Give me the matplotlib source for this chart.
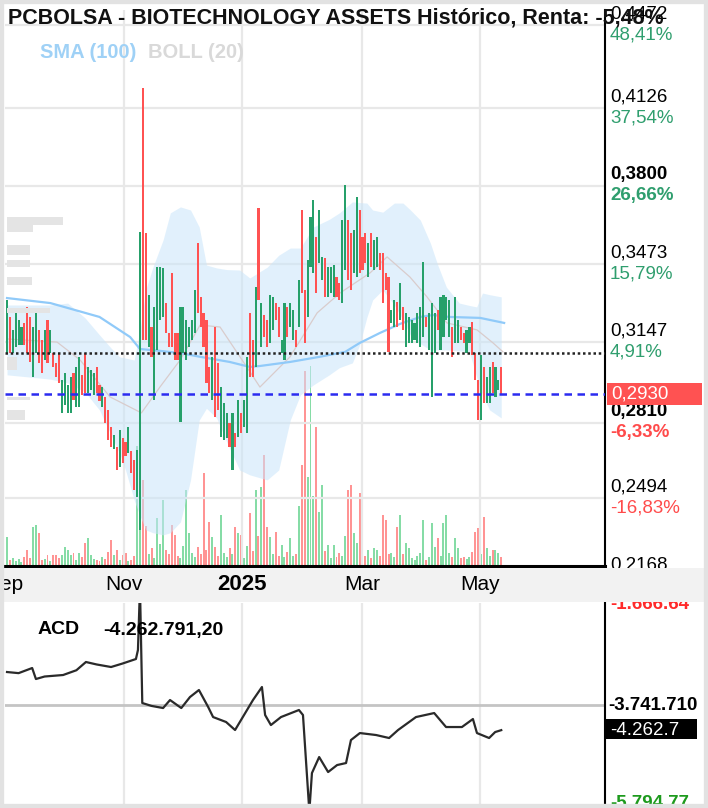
import matplotlib
matplotlib.use("Agg")
import matplotlib.pyplot as plt
import matplotlib.transforms as mtransforms
from matplotlib.patches import Rectangle
import numpy as np

W, H = 708, 808

# ---- daily candles (trading-day index 0..171) ----
opens = [
    .3101, .3252, .3101, .3126, .3135, .3135, .3227, .3294, .3252, .3001,
    .3101, .3198, .3156, .3072, .3239, .3101, .3101, .3060, .3101, .2851,
    .2884, .2851, .2851, .3018, .2876, .2876, .3010, .3101, .2934, .2947,
    .2926, .3043, .2968, .2876, .2917, .2863, .2792, .2700, .2708, .2625,
    .2746, .2730, .2683, .2690, .2654, .2500, .2362, .4209, .3603, .3126,
    .3210, .2905, .3114, .3239, .3252, .3311, .3185, .3436, .3185, .3185,
    .2813, .3101, .3072, .3126, .3156, .3185, .3561, .3336, .3269, .3239,
    .3043, .2905, .3210, .3060, .2750, .2738, .2746, .2808, .2612, .2767,
    .2750, .2851, .2792, .2767, .3269, .3156, .3043, .3707, .3126, .3260,
    .3239, .3143, .3198, .3311, .3294, .3101, .3072, .3294, .3210, .3156,
    .3198, .3210, .3699, .3365, .3252, .3461, .3436, .3586, .3478, .3407,
    .3499, .3336, .3352, .3336, .3419, .3394, .3311, .3448, .3657, .3603,
    .3436, .3419, .3699, .3586, .3603, .3419, .3603, .3448, .3461, .3520,
    .3520, .3436, .3419, .3227, .3210, .3315, .3239, .3294, .3126, .3143,
    .3143, .3156, .3143, .3126, .3168, .3252, .3114, .2917, .3101, .3281,
    .3114, .3168, .3239, .3168, .3210, .3143, .3143, .3210, .3185, .3101,
    .3143, .3231, .3101, .2989, .2821, .3043, .2893, .2893, .3064, .2917,
    .2947, .3043,
]
closes = [
    .3323, .3101, .3198, .3281, .3239, .3210, .3135, .3101, .3064, .3210,
    .3269, .3060, .3018, .3198, .3060, .3198, .3043, .3001, .2976, .2989,
    .3018, .2968, .3001, .2905, .3043, .3085, .2926, .2934, .3043, .3030,
    .3018, .2934, .2900, .2959, .2808, .2738, .2708, .2760, .2612, .2780,
    .2642, .2670, .2792, .2600, .2529, .2696, .3607, .3156, .3156, .3344,
    .3085, .3294, .3461, .3461, .3457, .3185, .3126, .3126, .3072, .3072,
    .3294, .3294, .3239, .3210, .3239, .3365, .3269, .3210, .3126, .2976,
    .2934, .3085, .2834, .2863, .2959, .2893, .2851, .2708, .2851, .2708,
    .2905, .2767, .2905, .3085, .3001, .3001, .3378, .3323, .3311, .3168,
    .3126, .3344, .3336, .3239, .3168, .3156, .3311, .3168, .3311, .3281,
    .3126, .3407, .3352, .3143, .3490, .3670, .3741, .3352, .3699, .3503,
    .3336, .3461, .3461, .3469, .3336, .3323, .3657, .3804, .3407, .3365,
    .3616, .3753, .3436, .3448, .3478, .3561, .3461, .3574, .3586, .3448,
    .3311, .3365, .3106, .3281, .3323, .3210, .3394, .3198, .3269, .3252,
    .3239, .3227, .3269, .3294, .3482, .3210, .3269, .3311, .3269, .3198,
    .3336, .3344, .3336, .3323, .3085, .3336, .3239, .3156, .3143, .3198,
    .3210, .3093, .2989, .2821, .3093, .2893, .3001, .3043, .2934, .3043,
    .2989, .2930,
]
volumes = [
    29, 6, 8, 5, 7, 4, 9, 16, 8, 39,
    41, 33, 6, 7, 11, 5, 11, 11, 8, 11,
    19, 16, 11, 13, 6, 13, 9, 23, 28, 11,
    7, 6, 5, 9, 7, 14, 26, 11, 16, 6,
    11, 13, 5, 6, 10, 120, 205, 86, 40, 12,
    18, 8, 48, 22, 66, 16, 12, 41, 31, 10,
    8, 20, 76, 33, 13, 9, 19, 12, 93, 16,
    44, 29, 19, 10, 51, 13, 9, 18, 12, 39,
    33, 31, 8, 20, 53, 15, 76, 30, 79, 111,
    39, 29, 12, 34, 10, 21, 9, 14, 28, 10,
    12, 60, 101, 196, 89, 201, 70, 139, 54, 81,
    15, 21, 8, 21, 9, 13, 10, 30, 76, 81,
    33, 23, 73, 23, 10, 16, 8, 18, 16, 10,
    51, 46, 12, 13, 9, 39, 51, 12, 23, 18,
    8, 6, 10, 13, 46, 6, 9, 43, 19, 28,
    10, 43, 51, 13, 9, 28, 18, 8, 9, 7,
    9, 14, 34, 38, 12, 49, 18, 10, 16, 16,
    13, 9,
]

# ---- indicators ----
sma_idx = [0, 15, 32, 42.6, 46, 53, 60, 67, 77, 84, 87.5, 98, 108, 117,
           122, 129, 136, 143, 147.4, 153, 163.7, 172]
sma_val = [.3331, .3310, .3252, .3168, .3118, .3110, .3101, .3085, .3064,
           .3043, .3047, .3064, .3085, .3106, .3143, .3185, .3223, .3252,
           .3260, .3252, .3248, .3227]

band_idx = [0, 11, 15, 21, 27, 32, 36, 39, 41, 44, 46, 48, 50.5, 54, 56.5,
            60, 63.5, 66.5, 69, 72.5, 76, 80.5, 84, 90, 94, 98, 101.5, 106,
            111.5, 115, 119.5, 122, 124.5, 126.5, 130, 134, 137, 139.5, 143,
            146.5, 149, 152, 156.5, 160, 162.5, 164.5, 167, 171]
band_up = [.3302, .3302, .3302, .3310, .3248, .3177, .3122, .3085, .3080,
           .3072, .3198, .3365, .3461, .3574, .3687, .3712, .3699, .3628,
           .3469, .3457, .3450, .3448, .3415, .3460, .3510, .3540, .3540,
           .3628, .3660, .3687, .3733, .3730, .3728, .3699, .3690, .3728,
           .3728, .3700, .3657, .3560, .3470, .3377, .3310, .3300, .3294,
           .3352, .3345, .3336]
band_lo = [.3010, .2997, .2992, .2976, .2938, .2863, .2759, .2680, .2612,
           .2487, .2420, .2362, .2350, .2341, .2350, .2395, .2571, .2821,
           .2870, .2830, .2730, .2612, .2592, .2571, .2612, .2821, .2926,
           .2968, .3010, .3040, .3060, .3135, .3250, .3323, .3365, .3302,
           .3240, .3177, .3140, .3114, .3114, .3114, .3110, .3106, .3000,
           .2926, .2863, .2830]
mid_idx = [0, 17.3, 25.3, 35.6, 46.5, 52.9, 59.9, 66.8, 73.7, 84.1, 87.5,
           97.9, 107.3, 115.2, 125.6, 131.5, 139.4, 145.3, 152.2, 162.6,
           168.2, 171.6]
mid_val = [.3160, .3147, .3072, .2918, .2851, .2959, .3072, .3218, .3210,
           .3022, .2959, .3085, .3269, .3352, .3436, .3503, .3419, .3336,
           .3227, .3198, .3143, .3106]

acd_idx = [0, 4, 8.7, 10, 13, 19.4, 24, 27.3, 31, 36, 40, 44.6, 45.3, 46,
           46.8, 50, 54, 56.4, 60.3, 63.3, 66.4, 69.6, 71.3, 75.8, 78.9,
           82.0, 85.1, 88.2, 89.3, 91.3, 94.8, 101.0, 102.4, 104.6, 105.5,
           108, 111.1, 114.2, 117.3, 119.0, 122.1, 127.7, 132.2, 135.3,
           141.5, 147.8, 151.9, 157.4, 161.2, 162.6, 166.8, 168.9, 171]
acd_val = [-3.057, -3.080, -2.974, -3.202, -3.150, -3.119, -3.020, -2.849,
           -2.900, -2.953, -2.880, -2.787, -2.600, -1.300, -3.700, -3.760,
           -3.804, -3.638, -3.804, -3.576, -3.430, -3.783, -3.991, -4.094,
           -4.260, -3.949, -3.638, -3.368, -3.949, -4.157, -3.991, -3.845,
           -3.949, -5.950, -5.153, -4.821, -5.132, -4.987, -4.945, -4.468,
           -4.323, -4.364, -4.426, -4.260, -3.991, -3.908, -4.198, -4.198,
           -4.032, -4.323, -4.426, -4.302, -4.2628]

price_ticks = [0.4472, 0.4126, 0.3800, 0.3473, 0.3147, 0.2810, 0.2494, 0.2168]
price_labels = ["0,4472", "0,4126", "0,3800", "0,3473", "0,3147", "0,2810",
                "0,2494", "0,2168"]
pct_labels = ["48,41%", "37,54%", "26,66%", "15,79%", "4,91%", "-6,33%",
              "-16,83%", ""]
bold_ticks = [False, False, True, False, False, True, False, False]

month_idx = [-1.0, 40.5, 81.3, 122.8, 163.7]
month_labels = ["Sep", "Nov", "2025", "Mar", "May"]

last_price = 0.2930
ref_price = 0.3101
acd_ref = -3.7417

GREEN = "#26a06a"
RED = "#ff5252"
VGREEN = "#86dca6"
VRED = "#ff9494"
PCT_GREEN = "#2f9e6e"
PCT_RED = "#ff4b4b"
GRID = "#e8e8e8"
SANS = ["Liberation Sans", "DejaVu Sans"]
NARROW = ["Liberation Sans Narrow", "Liberation Sans", "DejaVu Sans"]


def px_axes(fig, x0, y0, x1, y1):
    return fig.add_axes([x0 / W, 1 - y1 / H, (x1 - x0) / W, (y1 - y0) / H])


def fig_rect(fig, x0, y0, x1, y1, color, z=5):
    fig.add_artist(Rectangle((x0 / W, 1 - y1 / H), (x1 - x0) / W,
                             (y1 - y0) / H, transform=fig.transFigure,
                             facecolor=color, edgecolor="none", zorder=z))


fig = plt.figure(figsize=(W / 100, H / 100), dpi=100)
fig.patch.set_facecolor("white")

ax = px_axes(fig, 5, 10, 605, 566)
vax = ax.twinx()
ax.set_zorder(vax.get_zorder() + 1)
ax.patch.set_visible(False)

idx = np.arange(len(opens))
o = np.array(opens)
c = np.array(closes)
up = c >= o
ccol = [GREEN if u else RED for u in up]
vcol = [VGREEN if u else VRED for u in up]

# volume underlay
vax.bar(idx, volumes, width=0.68, color=vcol, zorder=1)
vax.set_ylim(0, max(volumes) * 2.72)
vax.axis("off")

# grid
for p in price_ticks:
    ax.axhline(p, color=GRID, lw=1.6, zorder=0)
for m in month_idx[1:]:
    ax.axvline(m, color=GRID, lw=1.6, zorder=0)

# bollinger + sma
ax.fill_between(band_idx, band_lo, band_up, color="#c9e5fa", alpha=0.55,
                lw=0, zorder=1)
ax.plot(mid_idx, mid_val, color="#d9cccc", lw=0.9, zorder=2)
ax.plot(sma_idx, sma_val, color="#90caf9", lw=1.6, zorder=2)

# candles
ax.bar(idx, np.maximum(np.abs(c - o), 0.0006), bottom=np.minimum(o, c),
       width=0.74, color=ccol, zorder=3)

# reference lines
ax.axhline(ref_price, color="#222222", lw=1.8, dashes=(1, 1.1), zorder=4)
ax.axhline(last_price, color="#2b2bf0", lw=1.8, dashes=(3, 2.2), zorder=4)

ax.set_xlim(-0.7, 206.9)
ax.set_ylim(0.2211, 0.4535)
ax.set_xticks([])
ax.set_yticks([])
for s in ["top", "left"]:
    ax.spines[s].set_visible(False)
ax.spines["right"].set_color("black")
ax.spines["right"].set_linewidth(1.5)
ax.spines["bottom"].set_color("black")
ax.spines["bottom"].set_linewidth(2.2)

# right price / percent labels
ytr = ax.get_yaxis_transform()
for p, lab, pct, b in zip(price_ticks, price_labels, pct_labels, bold_ticks):
    fw = "bold" if b else "normal"
    ax.annotate(lab, xy=(1, p), xycoords=ytr, xytext=(5, 11),
                textcoords="offset pixels", va="center", ha="left",
                fontsize=13.5, family=SANS, fontweight=fw, color="black",
                annotation_clip=False)
    if pct:
        col = PCT_RED if pct.startswith("-") else PCT_GREEN
        ax.annotate(pct, xy=(1, p), xycoords=ytr, xytext=(5, -10),
                    textcoords="offset pixels", va="center", ha="left",
                    fontsize=13.5, family=SANS, fontweight=fw, color=col,
                    annotation_clip=False)

ax.add_patch(Rectangle((1.003, last_price - 0.0048), 0.158, 0.0096,
                       transform=ytr, facecolor="#ff5252", edgecolor="none",
                       clip_on=False, zorder=6))
ax.annotate("0,2930", xy=(1, last_price), xycoords=ytr, xytext=(6, 0),
            textcoords="offset pixels", va="center", ha="left",
            fontsize=13.5, family=SANS, color="white", zorder=7,
            annotation_clip=False)

# ---- ACD panel ----
ax2 = px_axes(fig, 5, 603, 605, 804)
for m in month_idx[1:]:
    ax2.axvline(m, color=GRID, lw=1.6, zorder=0)
ax2.axhline(acd_ref, color="#c4c4c4", lw=2.0, zorder=1)
ax2.plot(acd_idx, acd_val, color="#2a2a2a", lw=1.6, zorder=3)
ax2.set_xlim(-0.7, 206.9)
ax2.set_ylim(-5.7948, -1.625)
ax2.set_xticks([])
ax2.set_yticks([])
for s in ["top", "left", "bottom"]:
    ax2.spines[s].set_visible(False)
ax2.spines["right"].set_color("black")
ax2.spines["right"].set_linewidth(1.5)

ytr2 = ax2.get_yaxis_transform()
ax2.annotate("-1.666.64", xy=(1, -1.6664), xycoords=ytr2, xytext=(5, 0),
             textcoords="offset pixels", va="center", ha="left", fontsize=13.5,
             family=SANS, fontweight="bold", color="#ff2a2a",
             annotation_clip=False)
ax2.annotate("-3.741.710", xy=(1, acd_ref), xycoords=ytr2, xytext=(3, 0),
             textcoords="offset pixels", va="center", ha="left", fontsize=13.5,
             family=SANS, fontweight="bold", color="black",
             annotation_clip=False)
ax2.add_patch(Rectangle((1.0, -4.4385), 0.153, 0.40, transform=ytr2,
                        facecolor="black", edgecolor="none", clip_on=False,
                        zorder=6))
ax2.annotate("-4.262.7", xy=(1, -4.2628), xycoords=ytr2, xytext=(5, 0),
             textcoords="offset pixels", va="center", ha="left", fontsize=13.5,
             family=SANS, color="white", zorder=7, annotation_clip=False)
ax2.annotate("-5.794.77", xy=(1, -5.7948), xycoords=ytr2, xytext=(5, 0),
             textcoords="offset pixels", va="center", ha="left", fontsize=13.5,
             family=SANS, fontweight="bold", color="#1d9a1d",
             annotation_clip=False)

fig.text(38 / W, 1 - 630 / H, "ACD", fontsize=14, fontweight="bold",
         family=SANS, va="center", ha="left")
fig.text(103 / W, 1 - 630 / H, "-4.262.791,20", fontsize=14,
         fontweight="bold", family=SANS, va="center", ha="left")

# ---- date band between the panels ----
fig_rect(fig, 0, 567.5, W, 602, "#f2f2f2", z=5)
btr = mtransforms.blended_transform_factory(ax.transData, fig.transFigure)
for m, lab in zip(month_idx, month_labels):
    big = lab.isdigit()
    fig.text(m, 1 - 585 / H, lab, transform=btr, ha="center", va="center",
             fontsize=16 if big else 15, fontweight="bold" if big else "normal",
             family=SANS, zorder=6)

# blurred overlay labels on the left edge
for x0, y0, x1, y1 in [(7, 217, 63, 225), (7, 225, 33, 232), (7, 245, 30, 255),
                       (7, 260, 30, 267), (7, 277, 32, 285), (7, 308, 50, 313),
                       (7, 357, 17, 370), (7, 397, 30, 400), (7, 410, 25, 420)]:
    fig_rect(fig, x0, y0, x1, y1, "#e4e4e4", z=4)

# title and legend
fig.text(8 / W, 1 - 18 / H, "PCBOLSA - BIOTECHNOLOGY ASSETS Histórico, Renta: -5,48%",
         fontsize=15.5, fontweight="bold", family=NARROW, va="center",
         ha="left", color="#111111", zorder=6)
fig.text(40 / W, 1 - 52 / H, "SMA (100)", fontsize=14.5, fontweight="bold",
         family=NARROW, color="#9fd1f6", va="center", ha="left")
fig.text(148 / W, 1 - 52 / H, "BOLL (20)", fontsize=14.5, fontweight="bold",
         family=NARROW, color="#d9d9d9", va="center", ha="left")

# outer frame
fig.add_artist(Rectangle((0, 0), 1, 1, transform=fig.transFigure, fill=False,
                         edgecolor="#e2e2e2", lw=6, zorder=8))

fig.savefig("out.png", dpi=100)
